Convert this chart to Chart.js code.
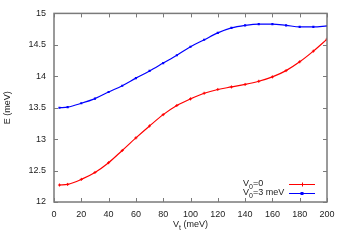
<!DOCTYPE html>
<html lang="en">
<head>
    <meta charset="UTF-8">
    <title>E vs Vt</title>
    <style>
        body { margin: 0; background: #fff; }
        #wrap { width: 349px; height: 244px; }
    </style>
</head>
<body>
    <div id="wrap"><canvas id="myChart" width="349" height="244"></canvas></div>

    <script src="https://cdn.jsdelivr.net/npm/chart.js"></script>
    <script>
        // data
        const vt = [4, 10, 20, 30, 40, 50, 60, 70, 80, 90, 100, 110, 120, 130, 140, 150, 160, 170, 180, 190, 200];
        const eV0 = [12.27, 12.28, 12.36, 12.47, 12.625, 12.82, 13.02, 13.21, 13.39, 13.535, 13.64, 13.73, 13.79, 13.83, 13.87, 13.92, 13.99, 14.09, 14.23, 14.40, 14.59];
        const eV3 = [13.50, 13.51, 13.57, 13.645, 13.75, 13.85, 13.97, 14.085, 14.21, 14.335, 14.47, 14.58, 14.69, 14.77, 14.81, 14.83, 14.83, 14.81, 14.785, 14.785, 14.80];
        const xTicks = [0, 20, 40, 60, 80, 100, 120, 140, 160, 180, 200];
        const yTicks = [12, 12.5, 13, 13.5, 14, 14.5, 15];
        const seriesNames = ['V0=0', 'V0=3 meV'];

        const font = '"Liberation Sans", Arial, sans-serif';
        const textColor = '#222';

        // draws a "V" + subscript + rest string
        function drawSub(ctx, main, sub, rest, x, y, align) {
            ctx.font = '9px ' + font;
            const w1 = ctx.measureText(main).width;
            ctx.font = '7px ' + font;
            const w2 = ctx.measureText(sub).width;
            ctx.font = '9px ' + font;
            const w3 = ctx.measureText(rest).width;
            let x0 = x;
            if (align === 'right') x0 = x - (w1 + w2 + w3);
            if (align === 'center') x0 = x - (w1 + w2 + w3) / 2;
            ctx.textAlign = 'left';
            ctx.textBaseline = 'middle';
            ctx.fillText(main, x0, y);
            ctx.font = '7px ' + font;
            ctx.fillText(sub, x0 + w1, y + 3);
            ctx.font = '9px ' + font;
            ctx.fillText(rest, x0 + w1 + w2, y);
        }

        const framePlugin = {
            id: 'frame',
            afterDraw(chart) {
                const ctx = chart.ctx;
                const a = chart.chartArea;
                const xs = chart.scales.x, ys = chart.scales.y;
                ctx.save();
                ctx.strokeStyle = '#7a7a7a';
                ctx.lineWidth = 1.5;
                ctx.strokeRect(a.left, a.top, a.right - a.left, a.bottom - a.top);
                ctx.lineWidth = 1;
                ctx.beginPath();
                xTicks.forEach(v => {
                    const px = Math.round(xs.getPixelForValue(v)) + 0.5;
                    ctx.moveTo(px, a.bottom); ctx.lineTo(px, a.bottom - 4);
                    ctx.moveTo(px, a.top); ctx.lineTo(px, a.top + 4);
                });
                yTicks.forEach(v => {
                    const py = Math.round(ys.getPixelForValue(v)) + 0.5;
                    ctx.moveTo(a.left, py); ctx.lineTo(a.left + 4, py);
                    ctx.moveTo(a.right, py); ctx.lineTo(a.right - 4, py);
                });
                ctx.stroke();

                // x axis title with subscript
                ctx.fillStyle = textColor;
                drawSub(ctx, 'V', 't', ' (meV)', (a.left + a.right) / 2, 225, 'center');

                // legend, bottom right inside the plot
                const rows = [184, 193];
                chart.data.datasets.forEach((ds, i) => {
                    const name = seriesNames[i];
                    ctx.fillStyle = textColor;
                    drawSub(ctx, name[0], name[1], name.slice(2), 243, rows[i], 'left');
                    ctx.strokeStyle = ds.borderColor;
                    ctx.lineWidth = 1;
                    ctx.beginPath();
                    ctx.moveTo(289, rows[i] + 0.5); ctx.lineTo(315, rows[i] + 0.5);
                    ctx.stroke();
                    ctx.fillStyle = ds.borderColor;
                    if (i === 0) {
                        ctx.beginPath();
                        ctx.moveTo(302.5, rows[i] - 1.5); ctx.lineTo(302.5, rows[i] + 2.5);
                        ctx.stroke();
                    } else {
                        ctx.fillRect(300.5, rows[i] - 1, 3, 3);
                    }
                });
                ctx.restore();
            }
        };

        const ctx = document.getElementById('myChart').getContext('2d');
        const chart = new Chart(ctx, {
            type: 'line',
            data: {
                datasets: [{
                    label: seriesNames[0],
                    data: vt.map((x, i) => ({ x: x, y: eV0[i] })),
                    borderColor: 'rgb(255, 0, 0)',
                    backgroundColor: 'rgb(255, 0, 0)',
                    borderWidth: 1.2,
                    pointStyle: 'cross',
                    pointRadius: 1.5,
                    pointBorderWidth: 1,
                    cubicInterpolationMode: 'monotone'
                }, {
                    label: seriesNames[1],
                    data: vt.map((x, i) => ({ x: x, y: eV3[i] })),
                    borderColor: 'rgb(0, 0, 255)',
                    backgroundColor: 'rgb(0, 0, 255)',
                    borderWidth: 1.2,
                    pointStyle: 'rect',
                    pointRadius: 1.5,
                    pointBorderWidth: 0,
                    cubicInterpolationMode: 'monotone'
                }]
            },
            options: {
                responsive: false,
                animation: false,
                layout: { padding: { top: 11, right: 22, left: 0, bottom: 0 } },
                plugins: {
                    legend: { display: false },
                    tooltip: { enabled: false }
                },
                scales: {
                    x: {
                        type: 'linear',
                        min: 0,
                        max: 200,
                        grid: { display: false, drawTicks: false },
                        border: { display: false },
                        afterFit(s) { s.height = 42; },
                        afterBuildTicks(s) { s.ticks = xTicks.map(v => ({ value: v })); },
                        ticks: { padding: 7, color: textColor, font: { size: 9, family: font }, maxRotation: 0 }
                    },
                    y: {
                        min: 12,
                        max: 15,
                        grid: { display: false, drawTicks: false },
                        border: { display: false },
                        afterFit(s) { s.width = 54; },
                        afterBuildTicks(s) { s.ticks = yTicks.map(v => ({ value: v })); },
                        ticks: {
                            padding: 8, color: textColor, font: { size: 9, family: font },
                            callback: v => String(v)
                        },
                        title: {
                            display: true,
                            text: 'E (meV)',
                            color: textColor,
                            font: { size: 9, family: font },
                            padding: { top: 2, bottom: 0 }
                        }
                    }
                }
            },
            plugins: [framePlugin]
        });
    </script>
</body>
</html>
